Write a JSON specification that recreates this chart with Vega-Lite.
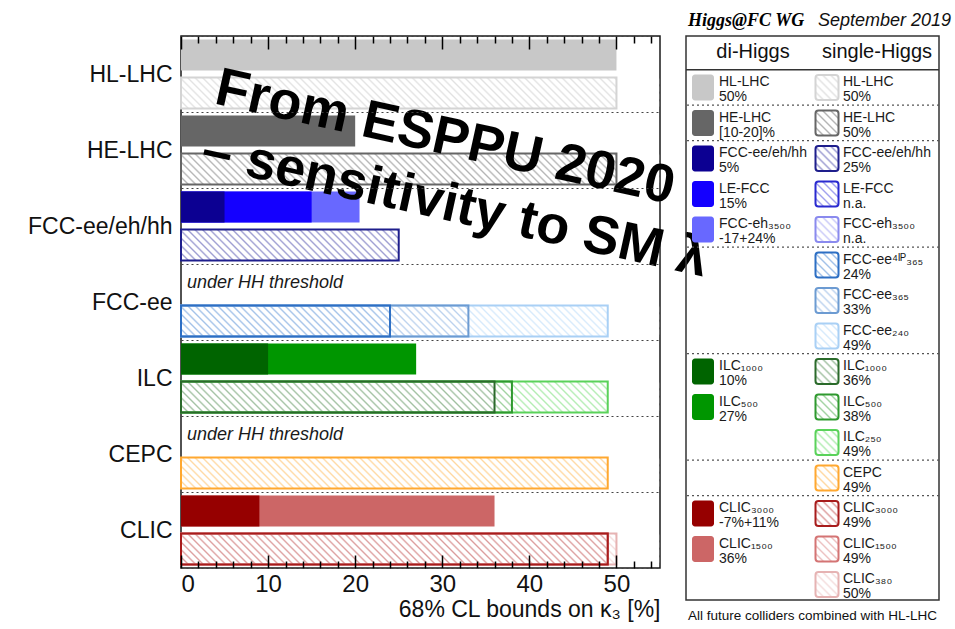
{
  "$schema": "https://vega.github.io/schema/vega-lite/v6.json",
  "background": "white",
  "padding": {"left": 26, "top": 11, "right": 2, "bottom": 2},
  "bounds": "flush",
  "spacing": 26,
  "config": {
    "font": "Liberation Sans",
    "axis": {"labelFont": "Liberation Sans", "titleFont": "Liberation Sans"}
  },
  "datasets": {
    "bars": [
      {"collider": "HL-LHC", "kind": "di", "machine": "HL-LHC", "value": 50},
      {"collider": "HL-LHC", "kind": "single", "machine": "HL-LHC", "value": 50},
      {"collider": "HE-LHC", "kind": "di", "machine": "HE-LHC", "value": 20},
      {"collider": "HE-LHC", "kind": "single", "machine": "HE-LHC", "value": 50},
      {"collider": "FCC-ee/eh/hh", "kind": "di", "machine": "FCC-eh₃₅₀₀", "value": 20.5},
      {"collider": "FCC-ee/eh/hh", "kind": "di", "machine": "LE-FCC", "value": 15},
      {"collider": "FCC-ee/eh/hh", "kind": "di", "machine": "FCC-ee/eh/hh", "value": 5},
      {"collider": "FCC-ee/eh/hh", "kind": "single", "machine": "FCC-ee/eh/hh", "value": 25},
      {"collider": "FCC-ee", "kind": "single", "machine": "FCC-ee₂₄₀", "value": 49},
      {"collider": "FCC-ee", "kind": "single", "machine": "FCC-ee₃₆₅", "value": 33},
      {"collider": "FCC-ee", "kind": "single", "machine": "FCC-ee⁴ᴵᴾ₃₆₅", "value": 24},
      {"collider": "ILC", "kind": "di", "machine": "ILC₅₀₀", "value": 27},
      {"collider": "ILC", "kind": "di", "machine": "ILC₁₀₀₀", "value": 10},
      {"collider": "ILC", "kind": "single", "machine": "ILC₂₅₀", "value": 49},
      {"collider": "ILC", "kind": "single", "machine": "ILC₅₀₀", "value": 38},
      {"collider": "ILC", "kind": "single", "machine": "ILC₁₀₀₀", "value": 36},
      {"collider": "CEPC", "kind": "single", "machine": "CEPC", "value": 49},
      {"collider": "CLIC", "kind": "di", "machine": "CLIC₁₅₀₀", "value": 36},
      {"collider": "CLIC", "kind": "di", "machine": "CLIC₃₀₀₀", "value": 9},
      {"collider": "CLIC", "kind": "single", "machine": "CLIC₃₈₀", "value": 50},
      {"collider": "CLIC", "kind": "single", "machine": "CLIC₁₅₀₀", "value": 49},
      {"collider": "CLIC", "kind": "single", "machine": "CLIC₃₀₀₀", "value": 49}
    ],
    "colliders": [
      {"collider": "HL-LHC", "kind": "single"},
      {"collider": "HE-LHC", "kind": "single"},
      {"collider": "FCC-ee/eh/hh", "kind": "single"},
      {"collider": "FCC-ee", "kind": "single"},
      {"collider": "ILC", "kind": "single"},
      {"collider": "CEPC", "kind": "single"},
      {"collider": "CLIC", "kind": "single"}
    ],
    "notes": [
      {"collider": "FCC-ee", "note": "under HH threshold"},
      {"collider": "CEPC", "note": "under HH threshold"}
    ],
    "columns": [
      {"col": "di", "title": "di-Higgs"},
      {"col": "single", "title": "single-Higgs"}
    ],
    "breaks": [{"at": 0.5}, {"at": 1.5}, {"at": 4.5}, {"at": 7.5}, {"at": 10.5}, {"at": 11.5}],
    "entries": [
      {"col": "di", "slot": 0, "machine": "HL-LHC", "note": "50%"},
      {"col": "di", "slot": 1, "machine": "HE-LHC", "note": "[10-20]%"},
      {"col": "di", "slot": 2, "machine": "FCC-ee/eh/hh", "note": "5%"},
      {"col": "di", "slot": 3, "machine": "LE-FCC", "note": "15%"},
      {"col": "di", "slot": 4, "machine": "FCC-eh₃₅₀₀", "note": "-17+24%"},
      {"col": "di", "slot": 8, "machine": "ILC₁₀₀₀", "note": "10%"},
      {"col": "di", "slot": 9, "machine": "ILC₅₀₀", "note": "27%"},
      {"col": "di", "slot": 12, "machine": "CLIC₃₀₀₀", "note": "-7%+11%"},
      {"col": "di", "slot": 13, "machine": "CLIC₁₅₀₀", "note": "36%"},
      {"col": "single", "slot": 0, "machine": "HL-LHC", "note": "50%"},
      {"col": "single", "slot": 1, "machine": "HE-LHC", "note": "50%"},
      {"col": "single", "slot": 2, "machine": "FCC-ee/eh/hh", "note": "25%"},
      {"col": "single", "slot": 3, "machine": "LE-FCC", "note": "n.a."},
      {"col": "single", "slot": 4, "machine": "FCC-eh₃₅₀₀", "note": "n.a."},
      {"col": "single", "slot": 5, "machine": "FCC-ee⁴ᴵᴾ₃₆₅", "note": "24%"},
      {"col": "single", "slot": 6, "machine": "FCC-ee₃₆₅", "note": "33%"},
      {"col": "single", "slot": 7, "machine": "FCC-ee₂₄₀", "note": "49%"},
      {"col": "single", "slot": 8, "machine": "ILC₁₀₀₀", "note": "36%"},
      {"col": "single", "slot": 9, "machine": "ILC₅₀₀", "note": "38%"},
      {"col": "single", "slot": 10, "machine": "ILC₂₅₀", "note": "49%"},
      {"col": "single", "slot": 11, "machine": "CEPC", "note": "49%"},
      {"col": "single", "slot": 12, "machine": "CLIC₃₀₀₀", "note": "49%"},
      {"col": "single", "slot": 13, "machine": "CLIC₁₅₀₀", "note": "49%"},
      {"col": "single", "slot": 14, "machine": "CLIC₃₈₀", "note": "50%"}
    ]
  },
  "hconcat": [
    {
      "width": 479,
      "height": 532,
      "view": {"stroke": "#1a1a1a", "strokeWidth": 1.5},
      "resolve": {"axis": {"x": "independent", "y": "independent"}},
      "layer": [
        {
          "data": {"name": "bars"},
          "transform": [{"filter": "datum.kind === 'single'"}],
          "mark": {"type": "bar"},
          "encoding": {
            "y": {
              "field": "collider", "type": "nominal",
              "scale": {"domain": ["HL-LHC", "HE-LHC", "FCC-ee/eh/hh", "FCC-ee", "ILC", "CEPC", "CLIC"], "paddingInner": 0, "paddingOuter": 0},
              "axis": {
                "orient": "left", "title": null, "ticks": false, "domain": false,
                "labelFontSize": 23, "labelColor": "#111", "labelPadding": 9, "labelLimit": 300,
                "grid": true, "tickBand": "extent", "gridDash": [2, 3], "gridColor": "#444", "gridWidth": 1.2, "zindex": 1
              }
            },
            "yOffset": {"field": "kind", "type": "nominal", "scale": {"domain": ["di", "single"], "paddingInner": 0.18, "paddingOuter": 0.09}},
            "x": {
              "field": "value", "type": "quantitative", "stack": null,
              "scale": {"domain": [0, 55], "nice": false},
              "axis": {
                "orient": "bottom", "zindex": 1,
                "values": [0, 10, 20, 30, 40, 50],
                "ticks": false, "domain": false,
                "grid": true, "gridDash": [13, 506, 13], "gridColor": "#000", "gridWidth": 1.5, "gridOpacity": 1,
                "labelFontSize": 24, "labelColor": "#111", "labelPadding": 4, "labelOverlap": false,
                "title": "68% CL bounds on κ₃ [%]", "titleFontSize": 23, "titleFontWeight": "normal",
                "titleColor": "#111", "titleAnchor": "end", "titleAlign": "right", "titleBaseline": "alphabetic",
                "titleX": 479, "titleY": 48
              }
            },
            "fill": {
              "field": "machine", "type": "nominal", "legend": null,
              "scale": {
                "domain": ["HL-LHC", "HE-LHC", "FCC-ee/eh/hh", "LE-FCC", "FCC-eh₃₅₀₀", "FCC-ee⁴ᴵᴾ₃₆₅", "FCC-ee₃₆₅", "FCC-ee₂₄₀", "ILC₁₀₀₀", "ILC₅₀₀", "ILC₂₅₀", "CEPC", "CLIC₃₀₀₀", "CLIC₁₅₀₀", "CLIC₃₈₀"],
                "range": ["#e2e2e2", "#b4b4b4", "#9a9ad0", "#a0a0ee", "#c8c8f8", "#a0c0e8", "#bcd2ee", "#d6eafc", "#a0c0a0", "#a0d2a0", "#b0ecb0", "#ffd8a0", "#dc9c9c", "#ecc0c0", "#f4dcdc"]
              }
            }
          }
        },
        {
          "data": {"name": "colliders"},
          "mark": {
            "type": "bar",
            "fill": {
              "gradient": "linear", "x1": 0, "y1": 1, "x2": 1.0606, "y2": 0.931,
              "stops": [
                {"offset": 0, "color": "#ffffff00"}, {"offset": 0.0037, "color": "#ffffff"}, {"offset": 0.011, "color": "#ffffff"},
                {"offset": 0.0147, "color": "#ffffff00"}, {"offset": 0.0184, "color": "#ffffff"}, {"offset": 0.0257, "color": "#ffffff"},
                {"offset": 0.0294, "color": "#ffffff00"}, {"offset": 0.0331, "color": "#ffffff"}, {"offset": 0.0404, "color": "#ffffff"},
                {"offset": 0.0441, "color": "#ffffff00"}, {"offset": 0.0478, "color": "#ffffff"}, {"offset": 0.0551, "color": "#ffffff"},
                {"offset": 0.0588, "color": "#ffffff00"}, {"offset": 0.0625, "color": "#ffffff"}, {"offset": 0.0698, "color": "#ffffff"},
                {"offset": 0.0735, "color": "#ffffff00"}, {"offset": 0.0772, "color": "#ffffff"}, {"offset": 0.0845, "color": "#ffffff"},
                {"offset": 0.0882, "color": "#ffffff00"}, {"offset": 0.0919, "color": "#ffffff"}, {"offset": 0.0992, "color": "#ffffff"},
                {"offset": 0.1029, "color": "#ffffff00"}, {"offset": 0.1066, "color": "#ffffff"}, {"offset": 0.1139, "color": "#ffffff"},
                {"offset": 0.1176, "color": "#ffffff00"}, {"offset": 0.1213, "color": "#ffffff"}, {"offset": 0.1286, "color": "#ffffff"},
                {"offset": 0.1324, "color": "#ffffff00"}, {"offset": 0.1361, "color": "#ffffff"}, {"offset": 0.1434, "color": "#ffffff"},
                {"offset": 0.1471, "color": "#ffffff00"}, {"offset": 0.1508, "color": "#ffffff"}, {"offset": 0.1581, "color": "#ffffff"},
                {"offset": 0.1618, "color": "#ffffff00"}, {"offset": 0.1655, "color": "#ffffff"}, {"offset": 0.1728, "color": "#ffffff"},
                {"offset": 0.1765, "color": "#ffffff00"}, {"offset": 0.1802, "color": "#ffffff"}, {"offset": 0.1875, "color": "#ffffff"},
                {"offset": 0.1912, "color": "#ffffff00"}, {"offset": 0.1949, "color": "#ffffff"}, {"offset": 0.2022, "color": "#ffffff"},
                {"offset": 0.2059, "color": "#ffffff00"}, {"offset": 0.2096, "color": "#ffffff"}, {"offset": 0.2169, "color": "#ffffff"},
                {"offset": 0.2206, "color": "#ffffff00"}, {"offset": 0.2243, "color": "#ffffff"}, {"offset": 0.2316, "color": "#ffffff"},
                {"offset": 0.2353, "color": "#ffffff00"}, {"offset": 0.239, "color": "#ffffff"}, {"offset": 0.2463, "color": "#ffffff"},
                {"offset": 0.25, "color": "#ffffff00"}, {"offset": 0.2537, "color": "#ffffff"}, {"offset": 0.261, "color": "#ffffff"},
                {"offset": 0.2647, "color": "#ffffff00"}, {"offset": 0.2684, "color": "#ffffff"}, {"offset": 0.2757, "color": "#ffffff"},
                {"offset": 0.2794, "color": "#ffffff00"}, {"offset": 0.2831, "color": "#ffffff"}, {"offset": 0.2904, "color": "#ffffff"},
                {"offset": 0.2941, "color": "#ffffff00"}, {"offset": 0.2978, "color": "#ffffff"}, {"offset": 0.3051, "color": "#ffffff"},
                {"offset": 0.3088, "color": "#ffffff00"}, {"offset": 0.3125, "color": "#ffffff"}, {"offset": 0.3198, "color": "#ffffff"},
                {"offset": 0.3235, "color": "#ffffff00"}, {"offset": 0.3272, "color": "#ffffff"}, {"offset": 0.3345, "color": "#ffffff"},
                {"offset": 0.3382, "color": "#ffffff00"}, {"offset": 0.3419, "color": "#ffffff"}, {"offset": 0.3492, "color": "#ffffff"},
                {"offset": 0.3529, "color": "#ffffff00"}, {"offset": 0.3566, "color": "#ffffff"}, {"offset": 0.3639, "color": "#ffffff"},
                {"offset": 0.3676, "color": "#ffffff00"}, {"offset": 0.3713, "color": "#ffffff"}, {"offset": 0.3786, "color": "#ffffff"},
                {"offset": 0.3824, "color": "#ffffff00"}, {"offset": 0.3861, "color": "#ffffff"}, {"offset": 0.3934, "color": "#ffffff"},
                {"offset": 0.3971, "color": "#ffffff00"}, {"offset": 0.4008, "color": "#ffffff"}, {"offset": 0.4081, "color": "#ffffff"},
                {"offset": 0.4118, "color": "#ffffff00"}, {"offset": 0.4155, "color": "#ffffff"}, {"offset": 0.4228, "color": "#ffffff"},
                {"offset": 0.4265, "color": "#ffffff00"}, {"offset": 0.4302, "color": "#ffffff"}, {"offset": 0.4375, "color": "#ffffff"},
                {"offset": 0.4412, "color": "#ffffff00"}, {"offset": 0.4449, "color": "#ffffff"}, {"offset": 0.4522, "color": "#ffffff"},
                {"offset": 0.4559, "color": "#ffffff00"}, {"offset": 0.4596, "color": "#ffffff"}, {"offset": 0.4669, "color": "#ffffff"},
                {"offset": 0.4706, "color": "#ffffff00"}, {"offset": 0.4743, "color": "#ffffff"}, {"offset": 0.4816, "color": "#ffffff"},
                {"offset": 0.4853, "color": "#ffffff00"}, {"offset": 0.489, "color": "#ffffff"}, {"offset": 0.4963, "color": "#ffffff"},
                {"offset": 0.5, "color": "#ffffff00"}, {"offset": 0.5037, "color": "#ffffff"}, {"offset": 0.511, "color": "#ffffff"},
                {"offset": 0.5147, "color": "#ffffff00"}, {"offset": 0.5184, "color": "#ffffff"}, {"offset": 0.5257, "color": "#ffffff"},
                {"offset": 0.5294, "color": "#ffffff00"}, {"offset": 0.5331, "color": "#ffffff"}, {"offset": 0.5404, "color": "#ffffff"},
                {"offset": 0.5441, "color": "#ffffff00"}, {"offset": 0.5478, "color": "#ffffff"}, {"offset": 0.5551, "color": "#ffffff"},
                {"offset": 0.5588, "color": "#ffffff00"}, {"offset": 0.5625, "color": "#ffffff"}, {"offset": 0.5698, "color": "#ffffff"},
                {"offset": 0.5735, "color": "#ffffff00"}, {"offset": 0.5772, "color": "#ffffff"}, {"offset": 0.5845, "color": "#ffffff"},
                {"offset": 0.5882, "color": "#ffffff00"}, {"offset": 0.5919, "color": "#ffffff"}, {"offset": 0.5992, "color": "#ffffff"},
                {"offset": 0.6029, "color": "#ffffff00"}, {"offset": 0.6066, "color": "#ffffff"}, {"offset": 0.6139, "color": "#ffffff"},
                {"offset": 0.6176, "color": "#ffffff00"}, {"offset": 0.6213, "color": "#ffffff"}, {"offset": 0.6286, "color": "#ffffff"},
                {"offset": 0.6324, "color": "#ffffff00"}, {"offset": 0.6361, "color": "#ffffff"}, {"offset": 0.6434, "color": "#ffffff"},
                {"offset": 0.6471, "color": "#ffffff00"}, {"offset": 0.6508, "color": "#ffffff"}, {"offset": 0.6581, "color": "#ffffff"},
                {"offset": 0.6618, "color": "#ffffff00"}, {"offset": 0.6655, "color": "#ffffff"}, {"offset": 0.6728, "color": "#ffffff"},
                {"offset": 0.6765, "color": "#ffffff00"}, {"offset": 0.6802, "color": "#ffffff"}, {"offset": 0.6875, "color": "#ffffff"},
                {"offset": 0.6912, "color": "#ffffff00"}, {"offset": 0.6949, "color": "#ffffff"}, {"offset": 0.7022, "color": "#ffffff"},
                {"offset": 0.7059, "color": "#ffffff00"}, {"offset": 0.7096, "color": "#ffffff"}, {"offset": 0.7169, "color": "#ffffff"},
                {"offset": 0.7206, "color": "#ffffff00"}, {"offset": 0.7243, "color": "#ffffff"}, {"offset": 0.7316, "color": "#ffffff"},
                {"offset": 0.7353, "color": "#ffffff00"}, {"offset": 0.739, "color": "#ffffff"}, {"offset": 0.7463, "color": "#ffffff"},
                {"offset": 0.75, "color": "#ffffff00"}, {"offset": 0.7537, "color": "#ffffff"}, {"offset": 0.761, "color": "#ffffff"},
                {"offset": 0.7647, "color": "#ffffff00"}, {"offset": 0.7684, "color": "#ffffff"}, {"offset": 0.7757, "color": "#ffffff"},
                {"offset": 0.7794, "color": "#ffffff00"}, {"offset": 0.7831, "color": "#ffffff"}, {"offset": 0.7904, "color": "#ffffff"},
                {"offset": 0.7941, "color": "#ffffff00"}, {"offset": 0.7978, "color": "#ffffff"}, {"offset": 0.8051, "color": "#ffffff"},
                {"offset": 0.8088, "color": "#ffffff00"}, {"offset": 0.8125, "color": "#ffffff"}, {"offset": 0.8198, "color": "#ffffff"},
                {"offset": 0.8235, "color": "#ffffff00"}, {"offset": 0.8272, "color": "#ffffff"}, {"offset": 0.8345, "color": "#ffffff"},
                {"offset": 0.8382, "color": "#ffffff00"}, {"offset": 0.8419, "color": "#ffffff"}, {"offset": 0.8492, "color": "#ffffff"},
                {"offset": 0.8529, "color": "#ffffff00"}, {"offset": 0.8566, "color": "#ffffff"}, {"offset": 0.8639, "color": "#ffffff"},
                {"offset": 0.8676, "color": "#ffffff00"}, {"offset": 0.8713, "color": "#ffffff"}, {"offset": 0.8786, "color": "#ffffff"},
                {"offset": 0.8824, "color": "#ffffff00"}, {"offset": 0.8861, "color": "#ffffff"}, {"offset": 0.8934, "color": "#ffffff"},
                {"offset": 0.8971, "color": "#ffffff00"}, {"offset": 0.9008, "color": "#ffffff"}, {"offset": 0.9081, "color": "#ffffff"},
                {"offset": 0.9118, "color": "#ffffff00"}, {"offset": 0.9155, "color": "#ffffff"}, {"offset": 0.9228, "color": "#ffffff"},
                {"offset": 0.9265, "color": "#ffffff00"}, {"offset": 0.9302, "color": "#ffffff"}, {"offset": 0.9375, "color": "#ffffff"},
                {"offset": 0.9412, "color": "#ffffff00"}, {"offset": 0.9449, "color": "#ffffff"}, {"offset": 0.9522, "color": "#ffffff"},
                {"offset": 0.9559, "color": "#ffffff00"}, {"offset": 0.9596, "color": "#ffffff"}, {"offset": 0.9669, "color": "#ffffff"},
                {"offset": 0.9706, "color": "#ffffff00"}, {"offset": 0.9743, "color": "#ffffff"}, {"offset": 0.9816, "color": "#ffffff"},
                {"offset": 0.9853, "color": "#ffffff00"}, {"offset": 0.989, "color": "#ffffff"}, {"offset": 0.9963, "color": "#ffffff"},
                {"offset": 1, "color": "#ffffff00"}
              ]
            }
          },
          "encoding": {
            "y": {"field": "collider", "type": "nominal", "axis": null},
            "yOffset": {"field": "kind", "type": "nominal"},
            "x": {"datum": 0, "type": "quantitative", "axis": null},
            "x2": {"datum": 54.9}
          }
        },
        {
          "data": {"name": "bars"},
          "transform": [{"filter": "datum.kind === 'single'"}],
          "mark": {"type": "bar", "filled": false, "strokeWidth": 2},
          "encoding": {
            "y": {"field": "collider", "type": "nominal", "axis": null},
            "yOffset": {"field": "kind", "type": "nominal"},
            "x": {
              "field": "value", "type": "quantitative", "stack": null,
              "axis": {
                "orient": "top", "zindex": 1,
                "values": [2, 4, 6, 8, 12, 14, 16, 18, 22, 24, 26, 28, 32, 34, 36, 38, 42, 44, 46, 48, 52, 54],
                "labels": false, "ticks": false, "domain": false, "title": null,
                "grid": true, "gridDash": [7, 518, 7], "gridColor": "#000", "gridWidth": 1.5, "gridOpacity": 1
              }
            },
            "stroke": {
              "field": "machine", "type": "nominal", "legend": null,
              "scale": {
                "domain": ["HL-LHC", "HE-LHC", "FCC-ee/eh/hh", "LE-FCC", "FCC-eh₃₅₀₀", "FCC-ee⁴ᴵᴾ₃₆₅", "FCC-ee₃₆₅", "FCC-ee₂₄₀", "ILC₁₀₀₀", "ILC₅₀₀", "ILC₂₅₀", "CEPC", "CLIC₃₀₀₀", "CLIC₁₅₀₀", "CLIC₃₈₀"],
                "range": ["#d4d4d4", "#666666", "#1e1e8c", "#2a2ad0", "#8a8aee", "#2d6fc4", "#6c9bd2", "#a9d0f5", "#2a6a2a", "#2f992f", "#5ad25a", "#ffa830", "#a81c1c", "#d47474", "#e6b3b3"]
              }
            }
          }
        },
        {
          "data": {"name": "bars"},
          "transform": [{"filter": "datum.kind === 'di'"}],
          "mark": {"type": "bar"},
          "encoding": {
            "y": {"field": "collider", "type": "nominal", "axis": null},
            "yOffset": {"field": "kind", "type": "nominal"},
            "x": {"field": "value", "type": "quantitative", "stack": null, "axis": null},
            "color": {
              "field": "machine", "type": "nominal", "legend": null,
              "scale": {
                "domain": ["HL-LHC", "HE-LHC", "FCC-ee/eh/hh", "LE-FCC", "FCC-eh₃₅₀₀", "ILC₁₀₀₀", "ILC₅₀₀", "CLIC₃₀₀₀", "CLIC₁₅₀₀"],
                "range": ["#c8c8c8", "#666666", "#0c0092", "#1400ff", "#6868ff", "#006400", "#009600", "#960000", "#cc6666"]
              }
            }
          }
        },
        {
          "data": {"name": "notes"},
          "mark": {"type": "text", "align": "left", "baseline": "middle", "dx": 6, "dy": -19, "fontStyle": "italic", "fontSize": 18, "color": "#1a1a1a"},
          "encoding": {
            "y": {"field": "collider", "type": "nominal", "axis": null},
            "x": {"datum": 0, "type": "quantitative", "axis": null},
            "text": {"field": "note", "type": "nominal"}
          }
        },
        {
          "data": {"values": [{}]},
          "mark": {"type": "text", "align": "left", "baseline": "alphabetic", "angle": 12.4, "fontSize": 54, "fontWeight": "bold", "lineHeight": 64, "dy": 30, "color": "#000"},
          "encoding": {
            "y": {"datum": "HL-LHC", "axis": null},
            "x": {"datum": 4.41, "type": "quantitative", "axis": null},
            "text": {"value": ["From ESPPU 2020", "– sensitivity to SM λ"]}
          }
        }
      ]
    },
    {
      "width": 253,
      "height": 564,
      "view": {"stroke": "#333", "strokeWidth": 1.5},
      "layer": [
        {
          "data": {"name": "columns"},
          "mark": {"type": "text", "fontSize": 20, "color": "#111", "baseline": "middle"},
          "encoding": {
            "x": {"field": "col", "type": "nominal", "axis": null, "scale": {"type": "band", "domain": ["di", "single"], "range": [5, 253], "paddingInner": 0, "paddingOuter": 0}},
            "y": {"datum": -1, "type": "quantitative", "axis": null, "scale": {"domain": [-1.45, 14.44], "reverse": true, "nice": false, "zero": false}},
            "text": {"field": "title", "type": "nominal"}
          }
        },
        {
          "data": {"values": [{}]},
          "mark": {"type": "rule", "color": "#333", "strokeWidth": 1.5},
          "encoding": {"y": {"datum": -0.5, "type": "quantitative", "axis": null}}
        },
        {
          "data": {"name": "breaks"},
          "mark": {"type": "rule", "color": "#555", "strokeWidth": 1.2, "strokeDash": [2, 3]},
          "encoding": {"y": {"field": "at", "type": "quantitative", "axis": null}}
        },
        {
          "data": {"name": "entries"},
          "transform": [{"filter": "datum.col === 'di'"}],
          "mark": {"type": "rect", "width": 22, "height": 26, "xOffset": -50, "cornerRadius": 3},
          "encoding": {
            "x": {"field": "col", "type": "nominal", "axis": null},
            "y": {"field": "slot", "type": "quantitative", "axis": null},
            "color": {
              "field": "machine", "type": "nominal", "legend": null,
              "scale": {
                "domain": ["HL-LHC", "HE-LHC", "FCC-ee/eh/hh", "LE-FCC", "FCC-eh₃₅₀₀", "ILC₁₀₀₀", "ILC₅₀₀", "CLIC₃₀₀₀", "CLIC₁₅₀₀"],
                "range": ["#c8c8c8", "#666666", "#0c0092", "#1400ff", "#6868ff", "#006400", "#009600", "#960000", "#cc6666"]
              }
            }
          }
        },
        {
          "data": {"name": "entries"},
          "transform": [{"filter": "datum.col === 'single'"}],
          "mark": {"type": "rect", "width": 23, "height": 25, "xOffset": -50, "cornerRadius": 3},
          "encoding": {
            "x": {"field": "col", "type": "nominal", "axis": null},
            "y": {"field": "slot", "type": "quantitative", "axis": null},
            "fill": {
              "field": "machine", "type": "nominal", "legend": null,
              "scale": {
                "domain": ["HL-LHC", "HE-LHC", "FCC-ee/eh/hh", "LE-FCC", "FCC-eh₃₅₀₀", "FCC-ee⁴ᴵᴾ₃₆₅", "FCC-ee₃₆₅", "FCC-ee₂₄₀", "ILC₁₀₀₀", "ILC₅₀₀", "ILC₂₅₀", "CEPC", "CLIC₃₀₀₀", "CLIC₁₅₀₀", "CLIC₃₈₀"],
                "range": ["#e2e2e2", "#b4b4b4", "#9a9ad0", "#a0a0ee", "#c8c8f8", "#a0c0e8", "#bcd2ee", "#d6eafc", "#a0c0a0", "#a0d2a0", "#b0ecb0", "#ffd8a0", "#dc9c9c", "#ecc0c0", "#f4dcdc"]
              }
            }
          }
        },
        {
          "data": {"name": "entries"},
          "transform": [{"filter": "datum.col === 'single'"}],
          "mark": {
            "type": "rect", "width": 23, "height": 25, "xOffset": -50, "cornerRadius": 3,
            "fill": {
              "gradient": "linear", "x1": 0, "y1": 1, "x2": 0.9567, "y2": -0.0399,
              "stops": [
                {"offset": 0, "color": "#ffffff00"}, {"offset": 0.0417, "color": "#ffffff"}, {"offset": 0.125, "color": "#ffffff"},
                {"offset": 0.1667, "color": "#ffffff00"}, {"offset": 0.2083, "color": "#ffffff"}, {"offset": 0.2917, "color": "#ffffff"},
                {"offset": 0.3333, "color": "#ffffff00"}, {"offset": 0.375, "color": "#ffffff"}, {"offset": 0.4583, "color": "#ffffff"},
                {"offset": 0.5, "color": "#ffffff00"}, {"offset": 0.5417, "color": "#ffffff"}, {"offset": 0.625, "color": "#ffffff"},
                {"offset": 0.6667, "color": "#ffffff00"}, {"offset": 0.7083, "color": "#ffffff"}, {"offset": 0.7917, "color": "#ffffff"},
                {"offset": 0.8333, "color": "#ffffff00"}, {"offset": 0.875, "color": "#ffffff"}, {"offset": 0.9583, "color": "#ffffff"},
                {"offset": 1, "color": "#ffffff00"}
              ]
            }
          },
          "encoding": {
            "x": {"field": "col", "type": "nominal", "axis": null},
            "y": {"field": "slot", "type": "quantitative", "axis": null}
          }
        },
        {
          "data": {"name": "entries"},
          "transform": [{"filter": "datum.col === 'single'"}],
          "mark": {"type": "rect", "width": 23, "height": 25, "xOffset": -50, "cornerRadius": 3, "filled": false, "strokeWidth": 2},
          "encoding": {
            "x": {"field": "col", "type": "nominal", "axis": null},
            "y": {"field": "slot", "type": "quantitative", "axis": null},
            "stroke": {
              "field": "machine", "type": "nominal", "legend": null,
              "scale": {
                "domain": ["HL-LHC", "HE-LHC", "FCC-ee/eh/hh", "LE-FCC", "FCC-eh₃₅₀₀", "FCC-ee⁴ᴵᴾ₃₆₅", "FCC-ee₃₆₅", "FCC-ee₂₄₀", "ILC₁₀₀₀", "ILC₅₀₀", "ILC₂₅₀", "CEPC", "CLIC₃₀₀₀", "CLIC₁₅₀₀", "CLIC₃₈₀"],
                "range": ["#d4d4d4", "#666666", "#1e1e8c", "#2a2ad0", "#8a8aee", "#2d6fc4", "#6c9bd2", "#a9d0f5", "#2a6a2a", "#2f992f", "#5ad25a", "#ffa830", "#a81c1c", "#d47474", "#e6b3b3"]
              }
            }
          }
        },
        {
          "data": {"name": "entries"},
          "mark": {"type": "text", "align": "left", "baseline": "middle", "dx": -34, "dy": -5, "fontSize": 14, "color": "#1a1a1a"},
          "encoding": {
            "x": {"field": "col", "type": "nominal", "axis": null},
            "y": {"field": "slot", "type": "quantitative", "axis": null},
            "text": {"field": "machine", "type": "nominal"}
          }
        },
        {
          "data": {"name": "entries"},
          "mark": {"type": "text", "align": "left", "baseline": "middle", "dx": -34, "dy": 10, "fontSize": 14, "color": "#1a1a1a"},
          "encoding": {
            "x": {"field": "col", "type": "nominal", "axis": null},
            "y": {"field": "slot", "type": "quantitative", "axis": null},
            "text": {"field": "note", "type": "nominal"}
          }
        },
        {
          "data": {"values": [{}]},
          "mark": {"type": "text", "align": "left", "baseline": "middle", "dx": -65, "fontSize": 18, "font": "Liberation Serif", "fontWeight": "bold", "fontStyle": "italic", "color": "#000"},
          "encoding": {
            "x": {"datum": "di", "type": "nominal", "axis": null},
            "y": {"datum": -1.87, "type": "quantitative", "axis": null},
            "text": {"value": "Higgs@FC WG"}
          }
        },
        {
          "data": {"values": [{}]},
          "mark": {"type": "text", "align": "left", "baseline": "middle", "dx": -59, "fontSize": 18, "fontStyle": "italic", "color": "#111"},
          "encoding": {
            "x": {"datum": "single", "type": "nominal", "axis": null},
            "y": {"datum": -1.87, "type": "quantitative", "axis": null},
            "text": {"value": "September 2019"}
          }
        },
        {
          "data": {"values": [{}]},
          "mark": {"type": "text", "align": "center", "baseline": "middle", "dx": -64.5, "fontSize": 13.5, "color": "#111"},
          "encoding": {
            "x": {"datum": "single", "type": "nominal", "axis": null},
            "y": {"datum": 14.89, "type": "quantitative", "axis": null},
            "text": {"value": "All future colliders combined with HL-LHC"}
          }
        }
      ]
    }
  ]
}
